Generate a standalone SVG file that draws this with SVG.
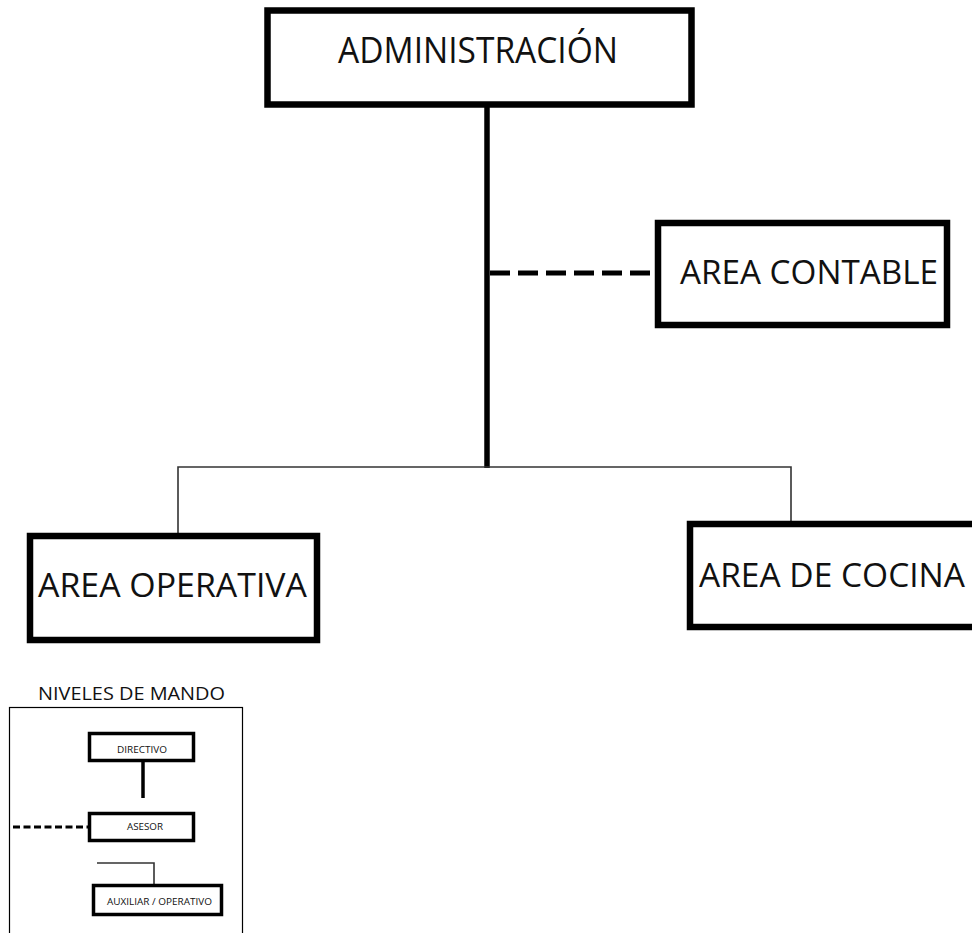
<svg xmlns="http://www.w3.org/2000/svg" width="972" height="933" viewBox="0 0 972 933">
<style>
.box{fill:#fff;stroke:#000}
.big{stroke-width:6.5}
.small{stroke-width:3.5}
text{font-family:"Open Sans","Noto Sans","Liberation Sans",sans-serif;fill:#111}
.t1{font-size:36px}
.t2{font-size:33px}
.t3{font-size:18px}
.t4{font-size:9.5px}
.thick{stroke:#000;stroke-width:5.5;fill:none}
.thin{stroke:#333;stroke-width:1.6;fill:none}
.dash{stroke:#000;stroke-width:5;stroke-dasharray:20 8;fill:none}
.dash2{stroke:#000;stroke-width:3;stroke-dasharray:7 3.5;fill:none}
</style>
<rect width="972" height="933" fill="#fff"/>
<g id="connectors">
<line class="thick" x1="487" y1="106" x2="487" y2="468"/>
<line class="dash" x1="490" y1="273" x2="656" y2="273"/>
<polyline class="thin" points="178,535 178,467 791,467 791,522"/>
</g>
<g id="administracion">
<rect class="box big" x="267.5" y="10.5" width="424" height="94"/>
<text class="t1" x="338" y="63" textLength="280" lengthAdjust="spacingAndGlyphs">ADMINISTRACIÓN</text>
</g>
<g id="area-contable">
<rect class="box big" x="658" y="223" width="289" height="102"/>
<text class="t2" x="680" y="284" textLength="258" lengthAdjust="spacingAndGlyphs">AREA CONTABLE</text>
</g>
<g id="area-operativa">
<rect class="box big" x="30" y="536" width="287" height="104"/>
<text class="t2" x="38" y="597" textLength="269" lengthAdjust="spacingAndGlyphs">AREA OPERATIVA</text>
</g>
<g id="area-cocina">
<rect class="box big" x="690" y="524" width="300" height="103"/>
<text class="t2" x="699" y="587" textLength="266" lengthAdjust="spacingAndGlyphs">AREA DE COCINA</text>
</g>
<g id="legend">
<text class="t3" x="38" y="700" textLength="187" lengthAdjust="spacingAndGlyphs">NIVELES DE MANDO</text>
<rect x="9.5" y="707.5" width="233" height="240" fill="none" stroke="#000" stroke-width="1.2"/>
<line x1="143" y1="761" x2="143" y2="798" stroke="#000" stroke-width="3.5"/>
<line class="dash2" x1="13" y1="827" x2="89" y2="827"/>
<polyline class="thin" points="97,863 154,863 154,884"/>
<g id="directivo">
<rect class="box small" x="89.5" y="733.5" width="104" height="27"/>
<text class="t4" x="117" y="753" textLength="50" lengthAdjust="spacingAndGlyphs">DIRECTIVO</text>
</g>
<g id="asesor">
<rect class="box small" x="89.5" y="813.5" width="104" height="27"/>
<text class="t4" x="127" y="830" textLength="36" lengthAdjust="spacingAndGlyphs">ASESOR</text>
</g>
<g id="auxiliar">
<rect class="box small" x="93.5" y="885.5" width="128" height="29"/>
<text class="t4" x="107" y="905" textLength="105" lengthAdjust="spacingAndGlyphs">AUXILIAR / OPERATIVO</text>
</g>
</g>
</svg>
